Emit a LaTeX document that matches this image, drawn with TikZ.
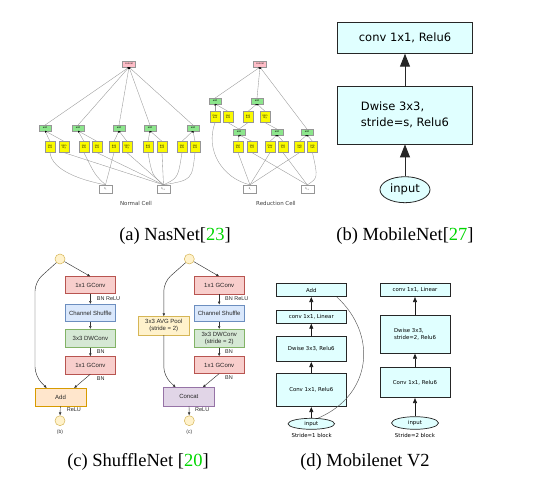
\documentclass[tikz,border=0pt]{standalone}
\usepackage{fontspec}
\setmainfont{Liberation Serif}
\newfontfamily\dejavu{DejaVu Sans}
\newfontfamily\helv{Liberation Sans}
\usetikzlibrary{arrows.meta,shapes.geometric,calc}
\definecolor{cyanfill}{RGB}{224,255,255}
\definecolor{refgreen}{RGB}{0,215,0}
\definecolor{nasgray}{RGB}{150,150,150}
\definecolor{naspink}{RGB}{255,190,200}
\definecolor{nasgreen}{RGB}{140,230,140}
\definecolor{nasyellow}{RGB}{250,250,0}
\definecolor{redF}{HTML}{F8CECC}\definecolor{redD}{HTML}{B85450}
\definecolor{blueF}{HTML}{DAE8FC}\definecolor{blueD}{HTML}{6C8EBF}
\definecolor{greenF}{HTML}{D5E8D4}\definecolor{greenD}{HTML}{82B366}
\definecolor{orangeF}{HTML}{FFE6CC}\definecolor{orangeD}{HTML}{D79B00}
\definecolor{yellowF}{HTML}{FFF2CC}\definecolor{yellowD}{HTML}{D6B656}
\definecolor{purpleF}{HTML}{E1D5E7}\definecolor{purpleD}{HTML}{9673A6}
\begin{document}
\begin{tikzpicture}[x=1pt,y=-1pt,
  nasfont/.style={font=\dejavu\fontsize{2.3}{2.6}\selectfont},
  nconcat/.style={nasfont,draw=nasgray,fill=naspink,line width=0.3pt,minimum width=13pt,minimum height=6pt,inner sep=0pt},
  nadd/.style={nasfont,draw=nasgray,fill=nasgreen,line width=0.3pt,minimum width=12pt,minimum height=5.5pt,inner sep=0pt},
  nop/.style={nasfont,draw=nasgray,fill=nasyellow,line width=0.3pt,minimum width=10pt,minimum height=11pt,inner sep=0pt,align=center},
  nin/.style={nasfont,draw=nasgray,fill=white,line width=0.3pt,minimum width=13pt,minimum height=8pt,inner sep=0pt},
  nline/.style={draw=nasgray,line width=0.35pt},
  narrow/.style={nline,-{Latex[length=1.6pt,width=1.6pt,color=black]}},
  nlabel/.style={font=\dejavu\fontsize{5.5}{6.5}\selectfont,text=black!75},
  mbox/.style={draw=black!85,fill=cyanfill,line width=0.8pt,font=\dejavu\fontsize{11.5}{16}\selectfont,minimum width=135.4pt,inner sep=0pt},
  marrow/.style={draw=black!85,line width=0.9pt,-{Triangle[length=13pt,width=10pt]}},
  sbox/.style={line width=0.5pt,minimum width=50.7pt,inner sep=0pt,align=center,font=\helv\fontsize{6}{7.2}\selectfont,text=black!85},
  scirc/.style={circle,draw=yellowD,fill=yellowF,line width=0.5pt,minimum size=10pt,inner sep=0pt},
  sarrow/.style={draw=black!80,line width=0.45pt,-{Latex[length=3pt,width=2.6pt]}},
  slabel/.style={font=\helv\fontsize{5.5}{6.5}\selectfont,text=black!85,anchor=west,inner sep=0pt},
  dbox/.style={draw=black!85,fill=cyanfill,line width=0.7pt,font=\dejavu\fontsize{5.4}{6.6}\selectfont,minimum width=70.5pt,inner sep=0pt,align=left},
  darrow/.style={draw=black!90,line width=0.6pt,-{Triangle[length=5pt,width=4pt]}},
  dlabel/.style={font=\dejavu\fontsize{5.4}{6.5}\selectfont},
  capt/.style={font=\fontsize{18.5}{20}\selectfont}
]
\useasboundingbox (0,0) rectangle (558,481);
\fill[white] (0,0) rectangle (558,481);

% ================= (a) NasNet: Normal cell =================
\node[nconcat] (cN) at (129,64) {concat};
\node[nadd] (a1) at (45,128) {add};
\node[nadd] (a2) at (78,128) {add};
\node[nadd] (a3) at (119,128) {add};
\node[nadd] (a4) at (150,128) {add};
\node[nadd] (a5) at (193,128) {add};
\node[nop] (o11) at (50,147) {sep\\3x3};
\node[nop] (o12) at (64,147) {iden\\tity};
\node[nop] (o21) at (84,147) {sep\\5x5};
\node[nop] (o22) at (97,147) {sep\\3x3};
\node[nop] (o31) at (114,147) {avg\\3x3};
\node[nop] (o32) at (127,147) {iden\\tity};
\node[nop] (o41) at (148,147) {avg\\3x3};
\node[nop] (o42) at (162,147) {avg\\3x3};
\node[nop] (o51) at (182,147) {sep\\5x5};
\node[nop] (o52) at (195,147) {sep\\3x3};
\node[nin] (hiN) at (105.5,189) {h\textsubscript{i}};
\node[nin] (hmN) at (163.5,189) {h\textsubscript{i-1}};
\node[nlabel] (lN) at (136,203) {Normal Cell};

\foreach \o/\a in {o11/a1,o12/a1,o21/a2,o22/a2,o31/a3,o32/a3,o41/a4,o42/a4,o51/a5,o52/a5}
  \draw[narrow] (\o.north) -- (\a.south);
\draw[nline] (hiN.north) .. controls (80,180) and (52,170) .. (o11.south);
\draw[nline] (hmN.north) -- (o12.south);
\draw[nline] (hiN.north) .. controls (95,175) .. (o21.south);
\draw[nline] (hmN.north) -- (o22.south);
\draw[nline] (hiN.north) -- (o31.south);
\draw[nline] (hmN.north) -- (o32.south);
\draw[nline] (hmN.north) .. controls (152,175) .. (o41.south);
\draw[nline] (hmN.north) -- (o42.south);
\draw[nline] (hmN.north) .. controls (178,178) .. (o51.south);
\draw[nline] (hmN.north) .. controls (192,180) .. (o52.south);
\foreach \a in {a1,a2,a3,a4,a5}
  \draw[narrow] (\a.north) -- (cN.south);

% ================= (a) NasNet: Reduction cell =================
\node[nconcat] (cR) at (260,64) {concat};
\node[nadd] (t1) at (215,101) {add};
\node[nadd] (t2) at (257,101) {add};
\node[nop] (p11) at (215,117) {max\\3x3};
\node[nop] (p12) at (228,117) {sep\\3x3};
\node[nop] (p21) at (248,117) {avg\\3x3};
\node[nop] (p22) at (265,117) {iden\\tity};
\node[nadd] (b1) at (239,132) {add};
\node[nadd] (b2) at (277,132) {add};
\node[nadd] (b3) at (307,132) {add};
\node[nop] (q11) at (238,147) {sep\\5x5};
\node[nop] (q12) at (252,147) {sep\\7x7};
\node[nop] (q21) at (270,147) {max\\3x3};
\node[nop] (q22) at (283,147) {sep\\7x7};
\node[nop] (q31) at (299.5,147) {avg\\3x3};
\node[nop] (q32) at (312.5,147) {sep\\5x5};
\node[nin] (hiR) at (250,189) {h\textsubscript{i}};
\node[nin] (hmR) at (307.3,189) {h\textsubscript{i-1}};
\node[nlabel] (lR) at (276,203) {Reduction Cell};

\foreach \o/\a in {p11/t1,p12/t1,p21/t2,p22/t2,q11/b1,q12/b1,q21/b2,q22/b2,q31/b3,q32/b3}
  \draw[narrow] (\o.north) -- (\a.south);
\draw[nline] (hiR.north) .. controls (222,178) and (205,150) .. (p11.south);
\draw[nline] (b1.north) -- (p12.south);
\draw[nline] (b1.north) -- (p21.south);
\draw[nline] (b2.north) -- (p22.south);
\draw[nline] (hiR.north) -- (q11.south);
\draw[nline] (hmR.north) -- (q12.south);
\draw[nline] (hiR.north) -- (q21.south);
\draw[nline] (hmR.north) -- (q22.south);
\draw[nline] (hiR.north) -- (q31.south);
\draw[nline] (hmR.north) .. controls (318,178) .. (q32.south);
\foreach \a in {t1,t2,b3}
  \draw[narrow] (\a.north) -- (cR.south);

\node[capt] (capa) at (175,236) {(a) NasNet[\textcolor{refgreen}{23}]};

% ================= (b) MobileNet =================
\node[mbox,minimum height=30.6pt] (m1) at (405,38) {conv 1x1, Relu6};
\node[mbox,minimum height=58pt,align=left] (m2) at (405,115) {Dwise 3x3,\\stride=s, Relu6};
\node[ellipse,draw=black!85,fill=cyanfill,line width=0.8pt,minimum width=50pt,minimum height=26pt,inner sep=0pt,font=\dejavu\fontsize{11.5}{14}\selectfont] (mi) at (405,189.7) {input};
\draw[marrow] (mi.north) -- (m2.south);
\draw[marrow] (m2.north) -- (m1.south);
\node[capt] (capb) at (405,236) {(b) MobileNet[\textcolor{refgreen}{27}]};

% ================= (c) ShuffleNet =================
% left unit
\node[scirc] (c1) at (60,259) {};
\node[sbox,draw=redD,fill=redF,minimum height=16.6pt] (g1) at (90.35,285) {1x1 GConv};
\node[sbox,draw=blueD,fill=blueF,minimum height=17.4pt] (cs1) at (90.35,313) {Channel Shuffle};
\node[sbox,draw=greenD,fill=greenF,minimum height=18pt] (dw1) at (90.35,338.3) {3x3 DWConv};
\node[sbox,draw=redD,fill=redF,minimum height=17.3pt] (g2) at (90.35,365.3) {1x1 GConv};
\node[sbox,draw=orangeD,fill=orangeF,minimum width=51pt,minimum height=17.7pt] (ad1) at (60.5,397.2) {Add};
\node[scirc] (c2) at (60,420.7) {};
\node[slabel] (l1) at (96.7,298.3) {BN ReLU};
\node[slabel] (l2) at (96.7,351.7) {BN};
\node[slabel] (l3) at (96.7,378.3) {BN};
\node[slabel] (l4) at (66.7,410) {ReLU};
\node[font=\helv\fontsize{5}{6}\selectfont,text=black!80] (lb) at (60,432.7) {(b)};
\draw[sarrow] (c1) -- (g1.north);
\draw[sarrow] (g1) -- (cs1);
\draw[sarrow] (cs1) -- (dw1);
\draw[sarrow] (dw1) -- (g2);
\draw[sarrow] (g2.south) -- ($(ad1.north)+(13.5,0)$);
\draw[sarrow,rounded corners=9pt] (c1.225) -- (35,282) -- (35,376) -- ($(ad1.north)+(-13.8,0)$);
\draw[sarrow] (ad1) -- (c2);

% right unit
\node[scirc] (c3) at (189.3,259) {};
\node[sbox,draw=redD,fill=redF,minimum width=50.3pt,minimum height=17.3pt] (g3) at (219.2,285.3) {1x1 GConv};
\node[sbox,draw=blueD,fill=blueF,minimum width=50.3pt,minimum height=16.7pt] (cs2) at (219.2,313.3) {Channel Shuffle};
\node[sbox,draw=greenD,fill=greenF,minimum width=50.3pt,minimum height=18.4pt] (dw2) at (219.2,338.5) {3x3 DWConv\\(stride = 2)};
\node[sbox,draw=redD,fill=redF,minimum width=50.3pt,minimum height=16.7pt] (g4) at (219.2,365) {1x1 GConv};
\node[sbox,draw=yellowD,fill=yellowF,minimum width=51pt,minimum height=18.3pt] (avg) at (163.8,325.8) {3x3 AVG Pool\\(stride = 2)};
\node[sbox,draw=purpleD,fill=purpleF,minimum width=51pt,minimum height=18.3pt] (cc) at (188.8,396.8) {Concat};
\node[scirc] (c4) at (189.3,420.7) {};
\node[slabel] (l5) at (225,298.3) {BN ReLU};
\node[slabel] (l6) at (225,351.7) {BN};
\node[slabel] (l7) at (225,377.3) {BN};
\node[slabel] (l8) at (195,410) {ReLU};
\node[font=\helv\fontsize{5}{6}\selectfont,text=black!80] (lc) at (189.3,432.7) {(c)};
\draw[sarrow] (c3) -- (g3.north);
\draw[sarrow] (g3) -- (cs2);
\draw[sarrow] (cs2) -- (dw2);
\draw[sarrow] (dw2) -- (g4);
\draw[sarrow] (g4.south) -- ($(cc.north)+(13.9,0)$);
\draw[sarrow,rounded corners=9pt] (c3.225) -- (163.8,282) -- (avg.north);
\draw[sarrow,rounded corners=9pt] (avg.south) -- (163.8,376) -- ($(cc.north)+(-13.1,0)$);
\draw[sarrow] (cc) -- (c4);

\node[capt] (capc) at (138,462) {(c) ShuffleNet [\textcolor{refgreen}{20}]};

% ================= (d) Mobilenet V2 =================
\node[dbox,minimum height=13.4pt] (dadd) at (311.3,290) {Add};
\node[dbox,minimum height=12.6pt] (dl1) at (311.3,317) {conv 1x1, Linear};
\node[dbox,minimum height=25pt] (dd1) at (311.3,349.2) {Dwise 3x3, Relu6};
\node[dbox,minimum height=33.4pt] (dc1) at (311.3,390) {Conv 1x1, Relu6};
\node[ellipse,draw=black!85,fill=cyanfill,line width=0.7pt,minimum width=46.6pt,minimum height=11pt,inner sep=0pt,font=\dejavu\fontsize{5.4}{6.5}\selectfont] (di1) at (311.3,423.8) {input};
\node[dlabel] (ds1) at (311.7,435.7) {Stride=1 block};
\draw[darrow] (di1.north) -- (dc1.south);
\draw[darrow] (dc1.north) -- (dd1.south);
\draw[darrow] (dd1.north) -- (dl1.south);
\draw[darrow] (dl1.north) -- (dadd.south);
\draw[draw=black!65,line width=0.45pt] (di1.40) .. controls (372,395) and (378,335) .. ($(dadd.south east)+(-10,0)$);

\node[dbox,minimum width=70pt,minimum height=13.4pt] (dl2) at (415,290) {conv 1x1, Linear};
\node[dbox,minimum width=70pt,minimum height=38.3pt] (dd2) at (415,334.2) {Dwise 3x3,\\stride=2, Relu6};
\node[dbox,minimum width=70pt,minimum height=30.4pt] (dc2) at (415,382.5) {Conv 1x1, Relu6};
\node[ellipse,draw=black!85,fill=cyanfill,line width=0.7pt,minimum width=47pt,minimum height=12.6pt,inner sep=0pt,font=\dejavu\fontsize{5.4}{6.5}\selectfont] (di2) at (415,423) {input};
\node[dlabel] (ds2) at (415,435.7) {Stride=2 block};
\draw[darrow] (di2.north) -- (dc2.south);
\draw[darrow] (dc2.north) -- (dd2.south);
\draw[darrow] (dd2.north) -- (dl2.south);

\node[capt] (capd) at (365,462) {(d) Mobilenet V2};
\end{tikzpicture}
\end{document}
